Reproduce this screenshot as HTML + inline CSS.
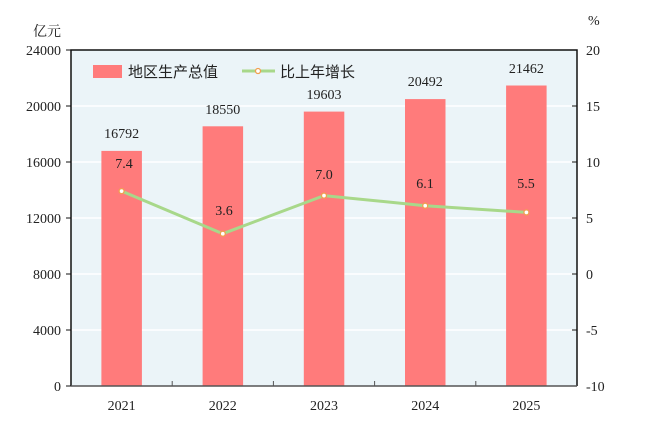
<!DOCTYPE html><html><head><meta charset="utf-8"><style>body{margin:0;background:#fff}</style></head><body>
<svg width="655" height="431" xmlns="http://www.w3.org/2000/svg" font-family="Liberation Serif, Noto Serif CJK SC, serif" font-size="14" fill="#222">
<rect x="71" y="50" width="506" height="336" fill="#ebf4f8"/>
<g stroke="#fff" stroke-width="1.5">
<line x1="71" x2="577" y1="106" y2="106"/><line x1="71" x2="577" y1="162" y2="162"/><line x1="71" x2="577" y1="218" y2="218"/><line x1="71" x2="577" y1="274" y2="274"/><line x1="71" x2="577" y1="330" y2="330"/></g>
<g fill="#ff7b7b">
<rect x="101.4" y="150.9" width="40.5" height="235.1"/>
<rect x="202.6" y="126.3" width="40.5" height="259.7"/>
<rect x="303.8" y="111.6" width="40.5" height="274.4"/>
<rect x="405" y="99.1" width="40.5" height="286.9"/>
<rect x="506.1" y="85.5" width="40.5" height="300.5"/></g>
<polyline points="121.6,191.1 222.8,233.7 324,195.6 425.2,205.7 526.4,212.4" fill="none" stroke="#a8d88a" stroke-width="3"/>
<g fill="#fff" stroke="#f0a050" stroke-width="1.3">
<circle cx="121.6" cy="191.1" r="2.5"/><circle cx="222.8" cy="233.7" r="2.5"/><circle cx="324" cy="195.6" r="2.5"/><circle cx="425.2" cy="205.7" r="2.5"/><circle cx="526.4" cy="212.4" r="2.5"/></g>
<g stroke="#111" stroke-width="1.5" fill="none"><polyline points="71,386 71,50 577,50 577,386"/></g>
<line x1="71" x2="577" y1="386" y2="386" stroke="#555" stroke-width="1.5"/>
<g stroke="#555"><line x1="172.2" x2="172.2" y1="381" y2="386"/><line x1="273.4" x2="273.4" y1="381" y2="386"/><line x1="374.6" x2="374.6" y1="381" y2="386"/><line x1="475.8" x2="475.8" y1="381" y2="386"/></g>
<g stroke="#111"><line x1="66" x2="71" y1="50" y2="50"/><line x1="66" x2="71" y1="106" y2="106"/><line x1="66" x2="71" y1="162" y2="162"/><line x1="66" x2="71" y1="218" y2="218"/><line x1="66" x2="71" y1="274" y2="274"/><line x1="66" x2="71" y1="330" y2="330"/><line x1="66" x2="71" y1="386" y2="386"/>
<line x1="572" x2="577" y1="50" y2="50"/><line x1="572" x2="577" y1="106" y2="106"/><line x1="572" x2="577" y1="162" y2="162"/><line x1="572" x2="577" y1="218" y2="218"/><line x1="572" x2="577" y1="274" y2="274"/><line x1="572" x2="577" y1="330" y2="330"/></g>
<g text-anchor="end"><text x="61" y="55">24000</text><text x="61" y="111">20000</text><text x="61" y="167">16000</text><text x="61" y="223">12000</text><text x="61" y="279">8000</text><text x="61" y="335">4000</text><text x="61" y="391">0</text></g>
<text x="61" y="36" text-anchor="end">亿元</text>
<g><text x="586" y="55">20</text><text x="586" y="111">15</text><text x="586" y="167">10</text><text x="586" y="223">5</text><text x="586" y="279">0</text><text x="586" y="335">-5</text><text x="586" y="391">-10</text><text x="588" y="25">%</text></g>
<g text-anchor="middle"><text x="121.6" y="410">2021</text><text x="222.8" y="410">2022</text><text x="324" y="410">2023</text><text x="425.2" y="410">2024</text><text x="526.4" y="410">2025</text>
<text x="121.6" y="138">16792</text><text x="222.8" y="114">18550</text><text x="324" y="99">19603</text><text x="425.2" y="86">20492</text><text x="526.4" y="73">21462</text>
<text x="124" y="168">7.4</text><text x="224" y="215">3.6</text><text x="324" y="179">7.0</text><text x="425" y="188">6.1</text><text x="526" y="188">5.5</text></g>
<rect x="93" y="65" width="29" height="13" fill="#ff7b7b"/>
<text x="128" y="77" font-size="15" font-family="Liberation Sans, Noto Sans CJK SC, sans-serif">地区生产总值</text>
<line x1="242" x2="275" y1="71" y2="71" stroke="#a8d88a" stroke-width="3"/>
<circle cx="258" cy="71" r="2.5" fill="#fff" stroke="#f0a050" stroke-width="1.3"/>
<text x="280" y="77" font-size="15" font-family="Liberation Sans, Noto Sans CJK SC, sans-serif">比上年增长</text>
</svg></body></html>
